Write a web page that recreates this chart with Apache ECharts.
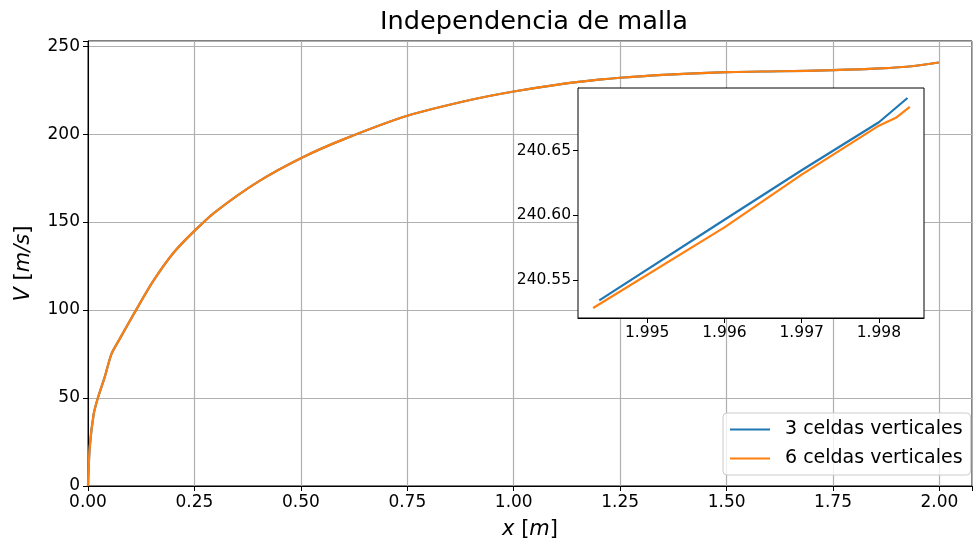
<!DOCTYPE html>
<html>
<head>
<meta charset="utf-8">
<script src="https://cdn.jsdelivr.net/npm/echarts@6/dist/echarts.min.js"></script>
<style>
  html, body { margin: 0; padding: 0; background: #fff; }
  #chart-container { width: 973px; height: 542px; }
</style>
</head>
<body>
<div id="chart-container"></div>
<script>
// main curve (both meshes overlap at this scale)
const xMain = [0, 0.004, 0.0134, 0.0235, 0.039, 0.055, 0.0745, 0.11, 0.153, 0.2, 0.25, 0.3, 0.4, 0.5, 0.6, 0.75, 0.9, 1.0, 1.1, 1.2, 1.25, 1.35, 1.5, 1.625, 1.75, 1.86, 1.94, 1.9984];
const vMain = [0, 21.8, 40.9, 50.3, 61.7, 75, 83.6, 98.8, 116.4, 132.3, 145, 156, 173, 186.3, 197, 210.4, 219.5, 224.2, 228, 230.9, 232, 233.6, 235.2, 235.7, 236.3, 237.3, 238.7, 240.68];

// zoomed end (inset)
const xInset3 = [1.99438, 1.996, 1.997, 1.998, 1.99837];
const vInset3 = [240.5346, 240.5967, 240.6348, 240.6718, 240.6905];
const xInset6 = [1.99430, 1.996, 1.997, 1.998, 1.99822, 1.99840];
const vInset6 = [240.5287, 240.5908, 240.6315, 240.6692, 240.6752, 240.6836];

const xTicksInset = [1.995, 1.996, 1.997, 1.998];
const yTicksInset = [240.55, 240.60, 240.65];

const names = ['3 celdas verticales', '6 celdas verticales'];
const colors = ['#1f77b4', '#ff7f0e'];

const pairs = (xs, ys) => xs.map((x, i) => [x, ys[i]]);
const onStep = (v, step) => Math.abs(v / step - Math.round(v / step)) < 1e-6;
const font = 'DejaVu Sans';

const chart = echarts.init(document.getElementById('chart-container'));
const option = {
  animation: false,
  backgroundColor: '#fff',
  textStyle: { fontFamily: font },
  title: {
    text: 'Independencia de malla',
    left: 380, top: 9, padding: 0,
    textStyle: { fontFamily: font, fontSize: 25.6, fontWeight: 'normal', color: '#000' }
  },
  legend: {
    data: names,
    orient: 'vertical',
    left: 723, top: 413,
    padding: [7, 8, 7, 7],
    itemGap: 10,
    itemWidth: 40, itemHeight: 2,
    icon: 'rect',
    backgroundColor: 'rgba(255,255,255,0.8)',
    borderColor: '#cccccc', borderWidth: 1, borderRadius: 4,
    textStyle: { fontFamily: font, fontSize: 19, color: '#000', padding: [0, 0, 0, 10] }
  },
  grid: [
    { left: 88, right: 1, top: 41, bottom: 56, outerBoundsMode: 'none',
      show: true, borderColor: '#000', borderWidth: 1 },
    { left: 578, top: 88, width: 346, height: 230, outerBoundsMode: 'none',
      show: true, backgroundColor: '#fff', borderColor: '#000', borderWidth: 1, z: 10 }
  ],
  xAxis: [
    {
      type: 'value', gridIndex: 0, min: 0, max: 2.0764, interval: 0.25,
      name: '{i|x} [{i|m}]', nameLocation: 'middle', nameGap: 33,
      nameTextStyle: { fontFamily: font, fontSize: 21, color: '#000',
        rich: { i: { fontFamily: font, fontSize: 21, fontStyle: 'italic', color: '#000' } } },
      axisLine: { lineStyle: { color: '#000', width: 1 } },
      axisTick: { inside: false, length: 5, lineStyle: { color: '#000' } },
      axisLabel: { fontFamily: font, fontSize: 17, color: '#000', margin: 8,
        formatter: v => onStep(v, 0.25) ? v.toFixed(2) : '' },
      splitLine: { show: true, lineStyle: { color: '#b0b0b0', width: 1.2 } }
    },
    {
      type: 'value', gridIndex: 1, min: 1.994104, max: 1.998584,
      axisLine: { lineStyle: { color: '#000', width: 1 } },
      axisTick: { length: 5, lineStyle: { color: '#000' }, customValues: xTicksInset },
      axisLabel: { fontFamily: font, fontSize: 15.5, color: '#000', margin: 7,
        customValues: xTicksInset, formatter: v => v.toFixed(3) },
      splitLine: { show: false }
    }
  ],
  yAxis: [
    {
      type: 'value', gridIndex: 0, min: 0, max: 252.9, interval: 50,
      name: '{i|V} [{i|m/s}]', nameLocation: 'middle', nameGap: 54, nameRotate: 90,
      nameTextStyle: { fontFamily: font, fontSize: 21, color: '#000',
        rich: { i: { fontFamily: font, fontSize: 21, fontStyle: 'italic', color: '#000' } } },
      axisLine: { show: true, lineStyle: { color: '#000', width: 1 } },
      axisTick: { show: true, length: 5, lineStyle: { color: '#000' } },
      axisLabel: { fontFamily: font, fontSize: 17, color: '#000', margin: 8,
        formatter: v => onStep(v, 50) ? String(v) : '' },
      splitLine: { show: true, lineStyle: { color: '#b0b0b0', width: 1.2 } }
    },
    {
      type: 'value', gridIndex: 1, min: 240.521, max: 240.6982,
      axisLine: { show: true, lineStyle: { color: '#000', width: 1 } },
      axisTick: { show: true, length: 5, lineStyle: { color: '#000' }, customValues: yTicksInset },
      axisLabel: { fontFamily: font, fontSize: 15.5, color: '#000', margin: 7,
        customValues: yTicksInset, formatter: v => v.toFixed(2) },
      splitLine: { show: false }
    }
  ],
  series: [
    { name: names[0], type: 'line', xAxisIndex: 0, yAxisIndex: 0, data: pairs(xMain, vMain),
      smooth: 0.25,
      showSymbol: false, lineStyle: { width: 2.2, color: colors[0] }, itemStyle: { color: colors[0] } },
    { name: names[1], type: 'line', xAxisIndex: 0, yAxisIndex: 0, data: pairs(xMain, vMain),
      smooth: 0.25,
      showSymbol: false, lineStyle: { width: 2.2, color: colors[1] }, itemStyle: { color: colors[1] } },
    { name: names[0], type: 'line', xAxisIndex: 1, yAxisIndex: 1, data: pairs(xInset3, vInset3), z: 12,
      showSymbol: false, lineStyle: { width: 2.2, color: colors[0] }, itemStyle: { color: colors[0] } },
    { name: names[1], type: 'line', xAxisIndex: 1, yAxisIndex: 1, data: pairs(xInset6, vInset6), z: 12,
      showSymbol: false, lineStyle: { width: 2.2, color: colors[1] }, itemStyle: { color: colors[1] } }
  ]
};
chart.setOption(option);
</script>
</body>
</html>
